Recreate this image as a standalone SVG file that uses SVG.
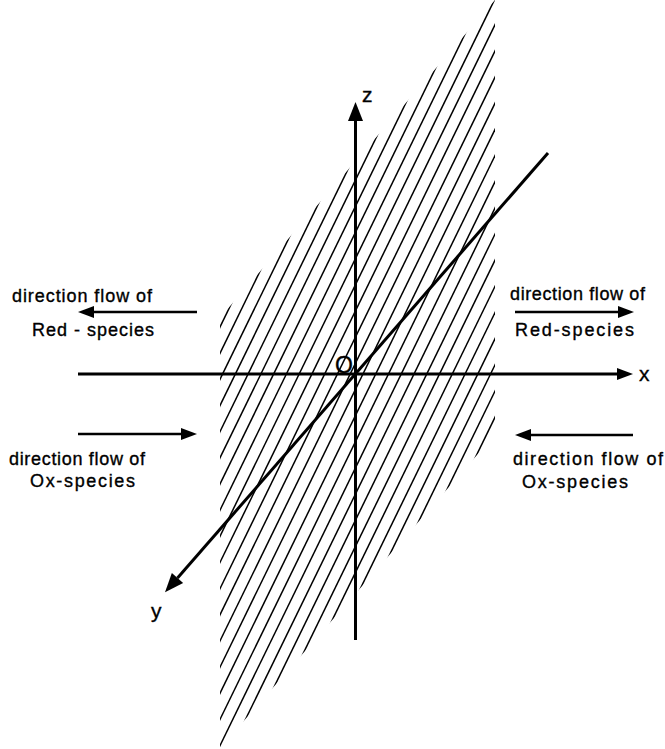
<svg xmlns="http://www.w3.org/2000/svg" width="665" height="749" viewBox="0 0 665 749">
<style>
.hatch line{stroke:#000;stroke-width:1.5}
.axis{stroke:#000;stroke-width:3;fill:none}
.flow{stroke:#000;stroke-width:2.3;fill:none}
text{font-family:"Liberation Sans",Arial,sans-serif;fill:#000;stroke:#000;stroke-width:0.35}
.lbl{font-size:18px}
.ax{font-size:21px}
</style>
<defs>
<marker id="big" markerUnits="userSpaceOnUse" markerWidth="19" markerHeight="15" refX="0" refY="7.5" orient="auto" overflow="visible"><path d="M0,0 L19,7.5 L0,15 z" fill="#000"/></marker>
<marker id="small" markerUnits="userSpaceOnUse" markerWidth="16" markerHeight="12" refX="0" refY="6" orient="auto" overflow="visible"><path d="M0,0 L16,6 L0,12 z" fill="#000"/></marker>
<clipPath id="plane"><polygon points="220,317.7 495,0 495,434.5 220,748"/></clipPath>
</defs>
<g id="hatched-plane" class="hatch" clip-path="url(#plane)">
<line x1="210" y1="347.5" x2="505" y2="-257.3"/>
<line x1="210" y1="373.7" x2="505" y2="-231.1"/>
<line x1="210" y1="399.8" x2="505" y2="-204.9"/>
<line x1="210" y1="426.0" x2="505" y2="-178.8"/>
<line x1="210" y1="452.1" x2="505" y2="-152.6"/>
<line x1="210" y1="478.3" x2="505" y2="-126.5"/>
<line x1="210" y1="504.5" x2="505" y2="-100.3"/>
<line x1="210" y1="530.6" x2="505" y2="-74.2"/>
<line x1="210" y1="556.8" x2="505" y2="-48.0"/>
<line x1="210" y1="582.9" x2="505" y2="-21.8"/>
<line x1="210" y1="609.1" x2="505" y2="4.3"/>
<line x1="210" y1="635.3" x2="505" y2="30.5"/>
<line x1="210" y1="661.4" x2="505" y2="56.7"/>
<line x1="210" y1="687.6" x2="505" y2="82.8"/>
<line x1="210" y1="713.7" x2="505" y2="109.0"/>
<line x1="210" y1="739.9" x2="505" y2="135.1"/>
<line x1="210" y1="766.1" x2="505" y2="161.3"/>
<line x1="210" y1="792.2" x2="505" y2="187.5"/>
<line x1="210" y1="818.4" x2="505" y2="213.6"/>
<line x1="210" y1="844.5" x2="505" y2="239.8"/>
<line x1="210" y1="870.7" x2="505" y2="265.9"/>
<line x1="210" y1="896.9" x2="505" y2="292.1"/>
<line x1="210" y1="923.0" x2="505" y2="318.3"/>
<line x1="210" y1="949.2" x2="505" y2="344.4"/>
<line x1="210" y1="975.3" x2="505" y2="370.6"/>
<line x1="210" y1="1001.5" x2="505" y2="396.8"/>
</g>
<g id="connectors">
<line id="x-axis" class="axis" x1="78" y1="374" x2="617" y2="374" stroke-width="2.5" marker-end="url(#small)"/>
<line id="z-axis" class="axis" x1="355.5" y1="640" x2="355.5" y2="121" marker-end="url(#big)"/>
<line id="y-axis" class="axis" x1="548" y1="153" x2="177.5" y2="578" marker-end="url(#big)"/>
<line id="flow-red-left" class="flow" x1="197" y1="312" x2="94" y2="312" marker-end="url(#small)"/>
<line id="flow-red-right" class="flow" x1="515" y1="312" x2="618" y2="312" marker-end="url(#small)"/>
<line id="flow-ox-left" class="flow" x1="78" y1="434" x2="181" y2="434" marker-end="url(#small)"/>
<line id="flow-ox-right" class="flow" x1="633" y1="435" x2="531" y2="435" marker-end="url(#small)"/>
</g>
<g id="axis-labels">
<text class="ax" x="362" y="102">z</text>
<text class="ax" x="639" y="381">x</text>
<text class="ax" x="151" y="618">y</text>
<text x="335" y="373" font-size="23">O</text>
</g>
<g id="label-left-red">
<text class="lbl" x="12" y="302" textLength="140" lengthAdjust="spacing">direction flow of</text>
<text class="lbl" x="32" y="336" textLength="122" lengthAdjust="spacing">Red - species</text>
</g>
<g id="label-left-ox">
<text class="lbl" x="9" y="465" textLength="136" lengthAdjust="spacing">direction flow of</text>
<text class="lbl" x="30" y="487" textLength="105" lengthAdjust="spacing">Ox-species</text>
</g>
<g id="label-right-red">
<text class="lbl" x="510" y="300" textLength="135" lengthAdjust="spacing">direction flow of</text>
<text class="lbl" x="515" y="336" textLength="119" lengthAdjust="spacing">Red-species</text>
</g>
<g id="label-right-ox">
<text class="lbl" x="513" y="465" textLength="150" lengthAdjust="spacing">direction flow of</text>
<text class="lbl" x="522" y="488" textLength="106" lengthAdjust="spacing">Ox-species</text>
</g>
</svg>
